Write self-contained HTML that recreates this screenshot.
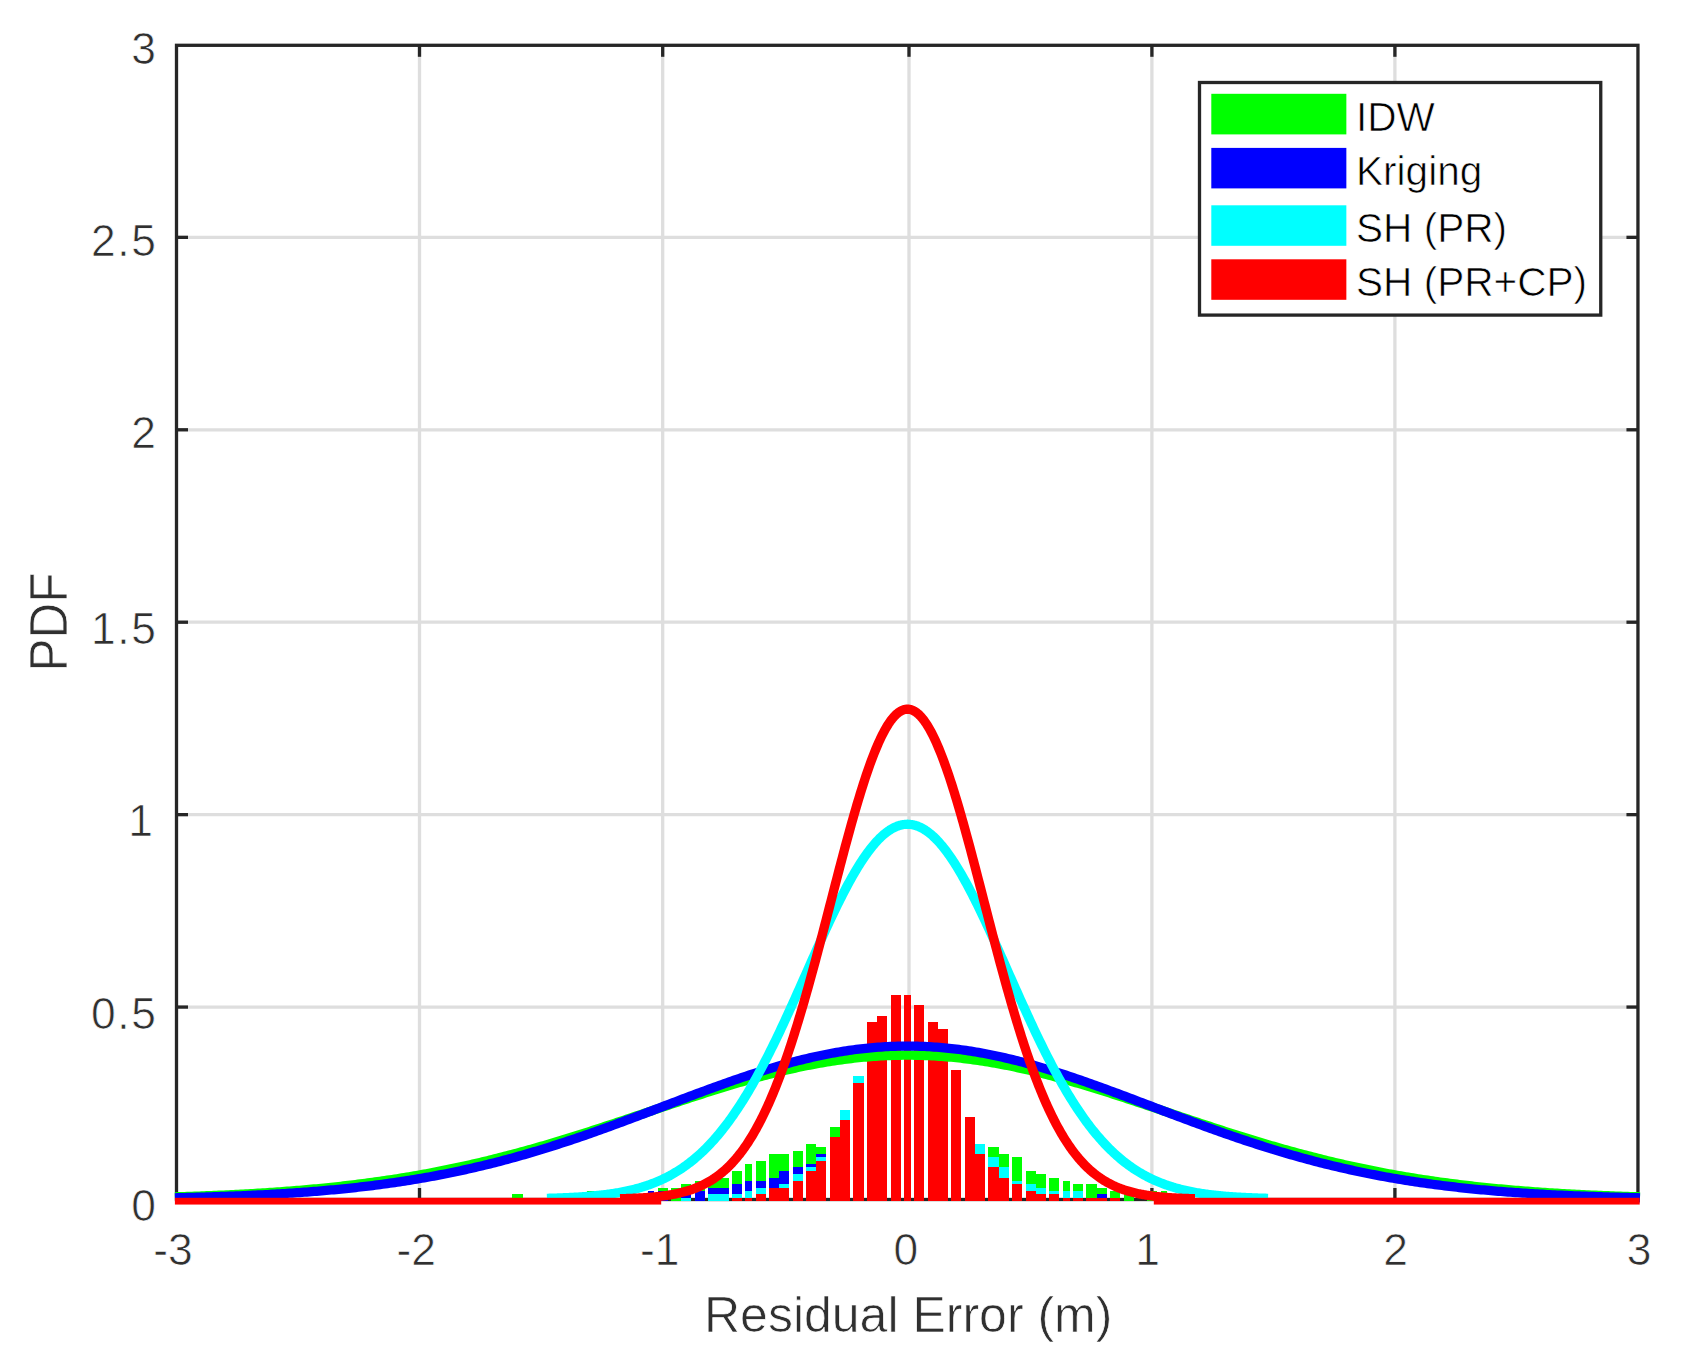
<!DOCTYPE html>
<html lang="en"><head><meta charset="utf-8"><title>Residual Error PDF</title>
<style>html,body{margin:0;padding:0;background:#fff}body{width:1688px;height:1371px;overflow:hidden}svg{display:block}text{font-family:"Liberation Sans",Arial,Helvetica,sans-serif;stroke:#fff;stroke-width:0.7px}</style></head><body>
<svg width="1688" height="1371" viewBox="0 0 1688 1371">
<rect width="1688" height="1371" fill="#fff"/>
<g stroke="#dedede" stroke-width="3.3" fill="none">
<line x1="419.50" y1="45.30" x2="419.50" y2="1199.50"/>
<line x1="662.70" y1="45.30" x2="662.70" y2="1199.50"/>
<line x1="909.00" y1="45.30" x2="909.00" y2="1199.50"/>
<line x1="1151.90" y1="45.30" x2="1151.90" y2="1199.50"/>
<line x1="1394.90" y1="45.30" x2="1394.90" y2="1199.50"/>
<line x1="176.50" y1="1007.07" x2="1637.95" y2="1007.07"/>
<line x1="176.50" y1="814.64" x2="1637.95" y2="814.64"/>
<line x1="176.50" y1="622.21" x2="1637.95" y2="622.21"/>
<line x1="176.50" y1="429.78" x2="1637.95" y2="429.78"/>
<line x1="176.50" y1="237.35" x2="1637.95" y2="237.35"/>
</g>
<g stroke="#262626" stroke-width="3.3" fill="none">
<rect x="176.50" y="45.30" width="1461.45" height="1154.20"/>
<line x1="419.50" y1="1199.50" x2="419.50" y2="1188.00"/>
<line x1="419.50" y1="45.30" x2="419.50" y2="56.80"/>
<line x1="662.70" y1="1199.50" x2="662.70" y2="1188.00"/>
<line x1="662.70" y1="45.30" x2="662.70" y2="56.80"/>
<line x1="909.00" y1="1199.50" x2="909.00" y2="1188.00"/>
<line x1="909.00" y1="45.30" x2="909.00" y2="56.80"/>
<line x1="1151.90" y1="1199.50" x2="1151.90" y2="1188.00"/>
<line x1="1151.90" y1="45.30" x2="1151.90" y2="56.80"/>
<line x1="1394.90" y1="1199.50" x2="1394.90" y2="1188.00"/>
<line x1="1394.90" y1="45.30" x2="1394.90" y2="56.80"/>
<line x1="176.50" y1="1007.07" x2="188.00" y2="1007.07"/>
<line x1="1637.95" y1="1007.07" x2="1626.45" y2="1007.07"/>
<line x1="176.50" y1="814.64" x2="188.00" y2="814.64"/>
<line x1="1637.95" y1="814.64" x2="1626.45" y2="814.64"/>
<line x1="176.50" y1="622.21" x2="188.00" y2="622.21"/>
<line x1="1637.95" y1="622.21" x2="1626.45" y2="622.21"/>
<line x1="176.50" y1="429.78" x2="188.00" y2="429.78"/>
<line x1="1637.95" y1="429.78" x2="1626.45" y2="429.78"/>
<line x1="176.50" y1="237.35" x2="188.00" y2="237.35"/>
<line x1="1637.95" y1="237.35" x2="1626.45" y2="237.35"/>
</g>
<g fill="#00ff00" shape-rendering="crispEdges">
<rect x="512.48" y="1194.43" width="10.13" height="6.75"/>
<rect x="586.75" y="1191.05" width="6.75" height="10.13"/>
<rect x="596.88" y="1191.05" width="10.13" height="10.13"/>
<rect x="657.64" y="1187.68" width="10.13" height="13.50"/>
<rect x="671.15" y="1187.68" width="10.13" height="13.50"/>
<rect x="681.28" y="1184.30" width="10.13" height="16.88"/>
<rect x="694.78" y="1180.92" width="10.13" height="20.26"/>
<rect x="708.28" y="1180.92" width="10.13" height="20.26"/>
<rect x="718.41" y="1177.55" width="10.13" height="23.63"/>
<rect x="731.92" y="1170.80" width="10.13" height="30.38"/>
<rect x="745.42" y="1164.05" width="6.75" height="37.14"/>
<rect x="755.55" y="1160.67" width="10.13" height="40.51"/>
<rect x="769.05" y="1153.92" width="10.13" height="47.26"/>
<rect x="779.18" y="1153.92" width="10.13" height="47.26"/>
<rect x="792.69" y="1150.54" width="10.13" height="50.64"/>
<rect x="806.19" y="1143.79" width="10.13" height="57.39"/>
<rect x="816.32" y="1147.16" width="10.13" height="54.02"/>
<rect x="829.82" y="1126.91" width="10.13" height="74.27"/>
<rect x="988.49" y="1147.16" width="10.13" height="54.02"/>
<rect x="998.62" y="1153.92" width="10.13" height="47.26"/>
<rect x="1012.12" y="1157.29" width="10.13" height="43.89"/>
<rect x="1025.63" y="1170.80" width="10.13" height="30.38"/>
<rect x="1035.76" y="1174.17" width="10.13" height="27.01"/>
<rect x="1049.26" y="1177.55" width="10.13" height="23.63"/>
<rect x="1062.77" y="1180.92" width="6.75" height="20.26"/>
<rect x="1072.89" y="1184.30" width="10.13" height="16.88"/>
<rect x="1086.40" y="1184.30" width="10.13" height="16.88"/>
<rect x="1096.53" y="1187.68" width="10.13" height="13.50"/>
<rect x="1110.03" y="1191.05" width="10.13" height="10.13"/>
<rect x="1123.53" y="1194.43" width="10.13" height="6.75"/>
<rect x="1147.16" y="1191.05" width="10.13" height="10.13"/>
<rect x="1160.67" y="1191.05" width="6.75" height="10.13"/>
</g>
<g fill="#0000ff" shape-rendering="crispEdges">
<rect x="647.52" y="1191.05" width="6.75" height="10.13"/>
<rect x="657.64" y="1191.05" width="10.13" height="10.13"/>
<rect x="681.28" y="1194.43" width="10.13" height="6.75"/>
<rect x="694.78" y="1191.05" width="10.13" height="10.13"/>
<rect x="708.28" y="1187.68" width="10.13" height="13.50"/>
<rect x="718.41" y="1187.68" width="10.13" height="13.50"/>
<rect x="731.92" y="1184.30" width="10.13" height="16.88"/>
<rect x="745.42" y="1180.92" width="6.75" height="20.26"/>
<rect x="755.55" y="1180.92" width="10.13" height="20.26"/>
<rect x="769.05" y="1177.55" width="10.13" height="23.63"/>
<rect x="779.18" y="1170.80" width="10.13" height="30.38"/>
<rect x="792.69" y="1167.42" width="10.13" height="33.76"/>
<rect x="806.19" y="1164.05" width="10.13" height="37.14"/>
<rect x="816.32" y="1153.92" width="10.13" height="47.26"/>
<rect x="1096.53" y="1194.43" width="10.13" height="6.75"/>
</g>
<g fill="#00ffff" shape-rendering="crispEdges">
<rect x="681.28" y="1197.81" width="10.13" height="3.38"/>
<rect x="708.28" y="1194.43" width="10.13" height="6.75"/>
<rect x="718.41" y="1194.43" width="10.13" height="6.75"/>
<rect x="731.92" y="1194.43" width="10.13" height="6.75"/>
<rect x="745.42" y="1191.05" width="6.75" height="10.13"/>
<rect x="755.55" y="1187.68" width="10.13" height="13.50"/>
<rect x="779.18" y="1184.30" width="10.13" height="16.88"/>
<rect x="792.69" y="1174.17" width="10.13" height="27.01"/>
<rect x="806.19" y="1167.42" width="10.13" height="33.76"/>
<rect x="816.32" y="1157.29" width="10.13" height="43.89"/>
<rect x="839.95" y="1110.03" width="10.13" height="91.15"/>
<rect x="853.45" y="1076.27" width="10.13" height="124.91"/>
<rect x="974.99" y="1143.79" width="10.13" height="57.39"/>
<rect x="988.49" y="1157.29" width="10.13" height="43.89"/>
<rect x="998.62" y="1167.42" width="10.13" height="33.76"/>
<rect x="1012.12" y="1180.92" width="10.13" height="20.26"/>
<rect x="1025.63" y="1184.30" width="10.13" height="16.88"/>
<rect x="1035.76" y="1187.68" width="10.13" height="13.50"/>
<rect x="1049.26" y="1191.05" width="10.13" height="10.13"/>
<rect x="1062.77" y="1191.05" width="6.75" height="10.13"/>
<rect x="1072.89" y="1191.05" width="10.13" height="10.13"/>
</g>
<g fill="#ff0000" shape-rendering="crispEdges">
<rect x="731.92" y="1197.81" width="10.13" height="3.38"/>
<rect x="745.42" y="1197.81" width="6.75" height="3.38"/>
<rect x="755.55" y="1194.43" width="10.13" height="6.75"/>
<rect x="769.05" y="1187.68" width="10.13" height="13.50"/>
<rect x="779.18" y="1187.68" width="10.13" height="13.50"/>
<rect x="792.69" y="1180.92" width="10.13" height="20.26"/>
<rect x="806.19" y="1170.80" width="10.13" height="30.38"/>
<rect x="816.32" y="1160.67" width="10.13" height="40.51"/>
<rect x="829.82" y="1137.04" width="10.13" height="64.14"/>
<rect x="839.95" y="1120.16" width="10.13" height="81.02"/>
<rect x="853.45" y="1083.02" width="10.13" height="118.16"/>
<rect x="866.96" y="1022.25" width="10.13" height="178.93"/>
<rect x="877.09" y="1015.50" width="10.13" height="185.68"/>
<rect x="890.59" y="995.25" width="10.13" height="205.94"/>
<rect x="904.09" y="995.25" width="6.75" height="205.94"/>
<rect x="914.22" y="1005.37" width="10.13" height="195.81"/>
<rect x="927.73" y="1022.25" width="10.13" height="178.93"/>
<rect x="937.85" y="1029.01" width="10.13" height="172.18"/>
<rect x="951.36" y="1069.52" width="10.13" height="131.66"/>
<rect x="964.86" y="1116.78" width="10.13" height="84.40"/>
<rect x="974.99" y="1153.92" width="10.13" height="47.26"/>
<rect x="988.49" y="1167.42" width="10.13" height="33.76"/>
<rect x="998.62" y="1177.55" width="10.13" height="23.63"/>
<rect x="1012.12" y="1184.30" width="10.13" height="16.88"/>
<rect x="1025.63" y="1191.05" width="10.13" height="10.13"/>
<rect x="1035.76" y="1194.43" width="10.13" height="6.75"/>
<rect x="1049.26" y="1194.43" width="10.13" height="6.75"/>
<rect x="1062.77" y="1197.81" width="6.75" height="3.38"/>
<rect x="1072.89" y="1197.81" width="10.13" height="3.38"/>
<rect x="1086.40" y="1197.81" width="10.13" height="3.38"/>
<rect x="1096.53" y="1197.81" width="10.13" height="3.38"/>
<rect x="1110.03" y="1197.81" width="10.13" height="3.38"/>
</g>
<polyline points="174.92,1196.84 177.37,1196.77 179.81,1196.69 182.25,1196.62 184.69,1196.54 187.13,1196.46 189.57,1196.38 192.02,1196.30 194.46,1196.22 196.90,1196.13 199.34,1196.04 201.78,1195.95 204.23,1195.86 206.67,1195.77 209.11,1195.67 211.55,1195.57 213.99,1195.47 216.43,1195.37 218.88,1195.26 221.32,1195.16 223.76,1195.05 226.20,1194.93 228.64,1194.82 231.09,1194.70 233.53,1194.58 235.97,1194.46 238.41,1194.34 240.85,1194.21 243.29,1194.08 245.74,1193.95 248.18,1193.82 250.62,1193.68 253.06,1193.54 255.50,1193.39 257.95,1193.25 260.39,1193.10 262.83,1192.95 265.27,1192.79 267.71,1192.63 270.15,1192.47 272.60,1192.31 275.04,1192.14 277.48,1191.97 279.92,1191.80 282.36,1191.62 284.81,1191.44 287.25,1191.25 289.69,1191.07 292.13,1190.88 294.57,1190.68 297.01,1190.48 299.46,1190.28 301.90,1190.08 304.34,1189.87 306.78,1189.65 309.22,1189.44 311.67,1189.22 314.11,1188.99 316.55,1188.76 318.99,1188.53 321.43,1188.29 323.87,1188.05 326.32,1187.81 328.76,1187.56 331.20,1187.31 333.64,1187.05 336.08,1186.79 338.53,1186.52 340.97,1186.25 343.41,1185.97 345.85,1185.69 348.29,1185.41 350.73,1185.12 353.18,1184.83 355.62,1184.53 358.06,1184.23 360.50,1183.92 362.94,1183.61 365.39,1183.29 367.83,1182.97 370.27,1182.64 372.71,1182.31 375.15,1181.98 377.59,1181.63 380.04,1181.29 382.48,1180.94 384.92,1180.58 387.36,1180.22 389.80,1179.85 392.25,1179.48 394.69,1179.10 397.13,1178.72 399.57,1178.33 402.01,1177.94 404.45,1177.54 406.90,1177.13 409.34,1176.72 411.78,1176.31 414.22,1175.89 416.66,1175.46 419.11,1175.03 421.55,1174.59 423.99,1174.15 426.43,1173.70 428.87,1173.25 431.31,1172.79 433.76,1172.33 436.20,1171.85 438.64,1171.38 441.08,1170.90 443.52,1170.41 445.97,1169.92 448.41,1169.42 450.85,1168.91 453.29,1168.40 455.73,1167.89 458.17,1167.36 460.62,1166.84 463.06,1166.30 465.50,1165.76 467.94,1165.22 470.38,1164.67 472.83,1164.11 475.27,1163.55 477.71,1162.98 480.15,1162.41 482.59,1161.83 485.03,1161.25 487.48,1160.66 489.92,1160.06 492.36,1159.46 494.80,1158.85 497.24,1158.24 499.69,1157.62 502.13,1157.00 504.57,1156.37 507.01,1155.74 509.45,1155.10 511.89,1154.45 514.34,1153.80 516.78,1153.15 519.22,1152.49 521.66,1151.82 524.10,1151.15 526.55,1150.47 528.99,1149.79 531.43,1149.11 533.87,1148.42 536.31,1147.72 538.75,1147.02 541.20,1146.31 543.64,1145.60 546.08,1144.89 548.52,1144.17 550.96,1143.44 553.41,1142.72 555.85,1141.98 558.29,1141.25 560.73,1140.51 563.17,1139.76 565.61,1139.01 568.06,1138.26 570.50,1137.50 572.94,1136.74 575.38,1135.97 577.82,1135.21 580.27,1134.43 582.71,1133.66 585.15,1132.88 587.59,1132.10 590.03,1131.31 592.47,1130.52 594.92,1129.73 597.36,1128.94 599.80,1128.14 602.24,1127.34 604.68,1126.54 607.13,1125.74 609.57,1124.93 612.01,1124.12 614.45,1123.31 616.89,1122.50 619.33,1121.69 621.78,1120.87 624.22,1120.06 626.66,1119.24 629.10,1118.42 631.54,1117.60 633.99,1116.78 636.43,1115.95 638.87,1115.13 641.31,1114.31 643.75,1113.48 646.20,1112.66 648.64,1111.83 651.08,1111.01 653.52,1110.18 655.96,1109.36 658.40,1108.54 660.85,1107.71 663.29,1106.89 665.73,1106.07 668.17,1105.25 670.61,1104.43 673.06,1103.61 675.50,1102.80 677.94,1101.98 680.38,1101.17 682.82,1100.36 685.26,1099.55 687.71,1098.75 690.15,1097.94 692.59,1097.14 695.03,1096.34 697.47,1095.55 699.92,1094.76 702.36,1093.97 704.80,1093.18 707.24,1092.40 709.68,1091.63 712.12,1090.85 714.57,1090.08 717.01,1089.32 719.45,1088.56 721.89,1087.80 724.33,1087.05 726.78,1086.31 729.22,1085.57 731.66,1084.83 734.10,1084.10 736.54,1083.38 738.98,1082.66 741.43,1081.95 743.87,1081.24 746.31,1080.54 748.75,1079.85 751.19,1079.16 753.64,1078.48 756.08,1077.81 758.52,1077.14 760.96,1076.48 763.40,1075.83 765.84,1075.19 768.29,1074.55 770.73,1073.92 773.17,1073.30 775.61,1072.69 778.05,1072.09 780.50,1071.49 782.94,1070.91 785.38,1070.33 787.82,1069.76 790.26,1069.20 792.70,1068.65 795.15,1068.11 797.59,1067.58 800.03,1067.06 802.47,1066.54 804.91,1066.04 807.36,1065.55 809.80,1065.07 812.24,1064.60 814.68,1064.13 817.12,1063.68 819.56,1063.24 822.01,1062.81 824.45,1062.39 826.89,1061.98 829.33,1061.59 831.77,1061.20 834.22,1060.83 836.66,1060.46 839.10,1060.11 841.54,1059.77 843.98,1059.44 846.42,1059.12 848.87,1058.82 851.31,1058.53 853.75,1058.24 856.19,1057.97 858.63,1057.72 861.08,1057.47 863.52,1057.24 865.96,1057.02 868.40,1056.81 870.84,1056.61 873.28,1056.43 875.73,1056.26 878.17,1056.10 880.61,1055.95 883.05,1055.82 885.49,1055.70 887.94,1055.59 890.38,1055.49 892.82,1055.41 895.26,1055.34 897.70,1055.28 900.14,1055.24 902.59,1055.20 905.03,1055.18 907.47,1055.18 909.91,1055.18 912.35,1055.20 914.80,1055.24 917.24,1055.28 919.68,1055.34 922.12,1055.41 924.56,1055.49 927.00,1055.59 929.45,1055.70 931.89,1055.82 934.33,1055.95 936.77,1056.10 939.21,1056.26 941.66,1056.43 944.10,1056.61 946.54,1056.81 948.98,1057.02 951.42,1057.24 953.86,1057.47 956.31,1057.72 958.75,1057.97 961.19,1058.24 963.63,1058.53 966.07,1058.82 968.52,1059.12 970.96,1059.44 973.40,1059.77 975.84,1060.11 978.28,1060.46 980.72,1060.83 983.17,1061.20 985.61,1061.59 988.05,1061.98 990.49,1062.39 992.93,1062.81 995.38,1063.24 997.82,1063.68 1000.26,1064.13 1002.70,1064.60 1005.14,1065.07 1007.58,1065.55 1010.03,1066.04 1012.47,1066.54 1014.91,1067.06 1017.35,1067.58 1019.79,1068.11 1022.24,1068.65 1024.68,1069.20 1027.12,1069.76 1029.56,1070.33 1032.00,1070.91 1034.44,1071.49 1036.89,1072.09 1039.33,1072.69 1041.77,1073.30 1044.21,1073.92 1046.65,1074.55 1049.10,1075.19 1051.54,1075.83 1053.98,1076.48 1056.42,1077.14 1058.86,1077.81 1061.30,1078.48 1063.75,1079.16 1066.19,1079.85 1068.63,1080.54 1071.07,1081.24 1073.51,1081.95 1075.96,1082.66 1078.40,1083.38 1080.84,1084.10 1083.28,1084.83 1085.72,1085.57 1088.16,1086.31 1090.61,1087.05 1093.05,1087.80 1095.49,1088.56 1097.93,1089.32 1100.37,1090.08 1102.82,1090.85 1105.26,1091.63 1107.70,1092.40 1110.14,1093.18 1112.58,1093.97 1115.02,1094.76 1117.47,1095.55 1119.91,1096.34 1122.35,1097.14 1124.79,1097.94 1127.23,1098.75 1129.68,1099.55 1132.12,1100.36 1134.56,1101.17 1137.00,1101.98 1139.44,1102.80 1141.88,1103.61 1144.33,1104.43 1146.77,1105.25 1149.21,1106.07 1151.65,1106.89 1154.09,1107.71 1156.54,1108.54 1158.98,1109.36 1161.42,1110.18 1163.86,1111.01 1166.30,1111.83 1168.74,1112.66 1171.19,1113.48 1173.63,1114.31 1176.07,1115.13 1178.51,1115.95 1180.95,1116.78 1183.40,1117.60 1185.84,1118.42 1188.28,1119.24 1190.72,1120.06 1193.16,1120.87 1195.61,1121.69 1198.05,1122.50 1200.49,1123.31 1202.93,1124.12 1205.37,1124.93 1207.81,1125.74 1210.26,1126.54 1212.70,1127.34 1215.14,1128.14 1217.58,1128.94 1220.02,1129.73 1222.47,1130.52 1224.91,1131.31 1227.35,1132.10 1229.79,1132.88 1232.23,1133.66 1234.67,1134.43 1237.12,1135.21 1239.56,1135.97 1242.00,1136.74 1244.44,1137.50 1246.88,1138.26 1249.33,1139.01 1251.77,1139.76 1254.21,1140.51 1256.65,1141.25 1259.09,1141.98 1261.53,1142.72 1263.98,1143.44 1266.42,1144.17 1268.86,1144.89 1271.30,1145.60 1273.74,1146.31 1276.19,1147.02 1278.63,1147.72 1281.07,1148.42 1283.51,1149.11 1285.95,1149.79 1288.39,1150.47 1290.84,1151.15 1293.28,1151.82 1295.72,1152.49 1298.16,1153.15 1300.60,1153.80 1303.05,1154.45 1305.49,1155.10 1307.93,1155.74 1310.37,1156.37 1312.81,1157.00 1315.25,1157.62 1317.70,1158.24 1320.14,1158.85 1322.58,1159.46 1325.02,1160.06 1327.46,1160.66 1329.91,1161.25 1332.35,1161.83 1334.79,1162.41 1337.23,1162.98 1339.67,1163.55 1342.11,1164.11 1344.56,1164.67 1347.00,1165.22 1349.44,1165.76 1351.88,1166.30 1354.32,1166.84 1356.77,1167.36 1359.21,1167.89 1361.65,1168.40 1364.09,1168.91 1366.53,1169.42 1368.97,1169.92 1371.42,1170.41 1373.86,1170.90 1376.30,1171.38 1378.74,1171.85 1381.18,1172.33 1383.63,1172.79 1386.07,1173.25 1388.51,1173.70 1390.95,1174.15 1393.39,1174.59 1395.83,1175.03 1398.28,1175.46 1400.72,1175.89 1403.16,1176.31 1405.60,1176.72 1408.04,1177.13 1410.49,1177.54 1412.93,1177.94 1415.37,1178.33 1417.81,1178.72 1420.25,1179.10 1422.69,1179.48 1425.14,1179.85 1427.58,1180.22 1430.02,1180.58 1432.46,1180.94 1434.90,1181.29 1437.35,1181.63 1439.79,1181.98 1442.23,1182.31 1444.67,1182.64 1447.11,1182.97 1449.55,1183.29 1452.00,1183.61 1454.44,1183.92 1456.88,1184.23 1459.32,1184.53 1461.76,1184.83 1464.21,1185.12 1466.65,1185.41 1469.09,1185.69 1471.53,1185.97 1473.97,1186.25 1476.41,1186.52 1478.86,1186.79 1481.30,1187.05 1483.74,1187.31 1486.18,1187.56 1488.62,1187.81 1491.07,1188.05 1493.51,1188.29 1495.95,1188.53 1498.39,1188.76 1500.83,1188.99 1503.27,1189.22 1505.72,1189.44 1508.16,1189.65 1510.60,1189.87 1513.04,1190.08 1515.48,1190.28 1517.93,1190.48 1520.37,1190.68 1522.81,1190.88 1525.25,1191.07 1527.69,1191.25 1530.13,1191.44 1532.58,1191.62 1535.02,1191.80 1537.46,1191.97 1539.90,1192.14 1542.34,1192.31 1544.79,1192.47 1547.23,1192.63 1549.67,1192.79 1552.11,1192.95 1554.55,1193.10 1556.99,1193.25 1559.44,1193.39 1561.88,1193.54 1564.32,1193.68 1566.76,1193.82 1569.20,1193.95 1571.65,1194.08 1574.09,1194.21 1576.53,1194.34 1578.97,1194.46 1581.41,1194.58 1583.85,1194.70 1586.30,1194.82 1588.74,1194.93 1591.18,1195.05 1593.62,1195.16 1596.06,1195.26 1598.51,1195.37 1600.95,1195.47 1603.39,1195.57 1605.83,1195.67 1608.27,1195.77 1610.71,1195.86 1613.16,1195.95 1615.60,1196.04 1618.04,1196.13 1620.48,1196.22 1622.92,1196.30 1625.37,1196.38 1627.81,1196.46 1630.25,1196.54 1632.69,1196.62 1635.13,1196.69 1637.57,1196.77 1640.02,1196.84" fill="none" stroke="#00ff00" stroke-width="9.3" stroke-linejoin="round"/>
<polyline points="174.92,1197.78 177.37,1197.73 179.81,1197.68 182.25,1197.62 184.69,1197.57 187.13,1197.51 189.57,1197.45 192.02,1197.39 194.46,1197.33 196.90,1197.26 199.34,1197.20 201.78,1197.13 204.23,1197.06 206.67,1196.99 209.11,1196.92 211.55,1196.84 213.99,1196.76 216.43,1196.69 218.88,1196.61 221.32,1196.52 223.76,1196.44 226.20,1196.35 228.64,1196.26 231.09,1196.17 233.53,1196.08 235.97,1195.98 238.41,1195.89 240.85,1195.79 243.29,1195.68 245.74,1195.58 248.18,1195.47 250.62,1195.36 253.06,1195.25 255.50,1195.13 257.95,1195.02 260.39,1194.90 262.83,1194.77 265.27,1194.65 267.71,1194.52 270.15,1194.39 272.60,1194.25 275.04,1194.11 277.48,1193.97 279.92,1193.83 282.36,1193.68 284.81,1193.53 287.25,1193.38 289.69,1193.22 292.13,1193.06 294.57,1192.90 297.01,1192.73 299.46,1192.56 301.90,1192.38 304.34,1192.21 306.78,1192.02 309.22,1191.84 311.67,1191.65 314.11,1191.46 316.55,1191.26 318.99,1191.06 321.43,1190.85 323.87,1190.64 326.32,1190.43 328.76,1190.21 331.20,1189.99 333.64,1189.76 336.08,1189.53 338.53,1189.30 340.97,1189.06 343.41,1188.81 345.85,1188.57 348.29,1188.31 350.73,1188.05 353.18,1187.79 355.62,1187.52 358.06,1187.25 360.50,1186.97 362.94,1186.69 365.39,1186.40 367.83,1186.11 370.27,1185.81 372.71,1185.51 375.15,1185.20 377.59,1184.88 380.04,1184.57 382.48,1184.24 384.92,1183.91 387.36,1183.57 389.80,1183.23 392.25,1182.89 394.69,1182.53 397.13,1182.17 399.57,1181.81 402.01,1181.44 404.45,1181.06 406.90,1180.68 409.34,1180.29 411.78,1179.90 414.22,1179.50 416.66,1179.09 419.11,1178.68 421.55,1178.26 423.99,1177.83 426.43,1177.40 428.87,1176.96 431.31,1176.52 433.76,1176.07 436.20,1175.61 438.64,1175.15 441.08,1174.68 443.52,1174.20 445.97,1173.72 448.41,1173.23 450.85,1172.73 453.29,1172.23 455.73,1171.72 458.17,1171.20 460.62,1170.68 463.06,1170.15 465.50,1169.61 467.94,1169.07 470.38,1168.52 472.83,1167.96 475.27,1167.40 477.71,1166.83 480.15,1166.25 482.59,1165.67 485.03,1165.07 487.48,1164.48 489.92,1163.87 492.36,1163.26 494.80,1162.64 497.24,1162.01 499.69,1161.38 502.13,1160.74 504.57,1160.10 507.01,1159.45 509.45,1158.79 511.89,1158.12 514.34,1157.45 516.78,1156.77 519.22,1156.08 521.66,1155.39 524.10,1154.69 526.55,1153.98 528.99,1153.27 531.43,1152.55 533.87,1151.83 536.31,1151.10 538.75,1150.36 541.20,1149.61 543.64,1148.86 546.08,1148.11 548.52,1147.35 550.96,1146.58 553.41,1145.80 555.85,1145.02 558.29,1144.24 560.73,1143.44 563.17,1142.65 565.61,1141.84 568.06,1141.03 570.50,1140.22 572.94,1139.40 575.38,1138.58 577.82,1137.75 580.27,1136.91 582.71,1136.07 585.15,1135.23 587.59,1134.38 590.03,1133.52 592.47,1132.66 594.92,1131.80 597.36,1130.93 599.80,1130.06 602.24,1129.19 604.68,1128.31 607.13,1127.42 609.57,1126.54 612.01,1125.65 614.45,1124.75 616.89,1123.85 619.33,1122.95 621.78,1122.05 624.22,1121.14 626.66,1120.23 629.10,1119.32 631.54,1118.41 633.99,1117.49 636.43,1116.58 638.87,1115.66 641.31,1114.73 643.75,1113.81 646.20,1112.89 648.64,1111.96 651.08,1111.03 653.52,1110.10 655.96,1109.18 658.40,1108.25 660.85,1107.32 663.29,1106.39 665.73,1105.46 668.17,1104.53 670.61,1103.60 673.06,1102.67 675.50,1101.74 677.94,1100.82 680.38,1099.89 682.82,1098.97 685.26,1098.04 687.71,1097.12 690.15,1096.20 692.59,1095.29 695.03,1094.37 697.47,1093.46 699.92,1092.55 702.36,1091.64 704.80,1090.74 707.24,1089.84 709.68,1088.95 712.12,1088.05 714.57,1087.16 717.01,1086.28 719.45,1085.40 721.89,1084.53 724.33,1083.66 726.78,1082.79 729.22,1081.93 731.66,1081.08 734.10,1080.23 736.54,1079.39 738.98,1078.55 741.43,1077.72 743.87,1076.90 746.31,1076.08 748.75,1075.27 751.19,1074.47 753.64,1073.67 756.08,1072.88 758.52,1072.10 760.96,1071.33 763.40,1070.57 765.84,1069.81 768.29,1069.07 770.73,1068.33 773.17,1067.60 775.61,1066.88 778.05,1066.17 780.50,1065.47 782.94,1064.78 785.38,1064.10 787.82,1063.42 790.26,1062.76 792.70,1062.11 795.15,1061.47 797.59,1060.85 800.03,1060.23 802.47,1059.62 804.91,1059.03 807.36,1058.44 809.80,1057.87 812.24,1057.31 814.68,1056.77 817.12,1056.23 819.56,1055.71 822.01,1055.20 824.45,1054.70 826.89,1054.21 829.33,1053.74 831.77,1053.28 834.22,1052.84 836.66,1052.40 839.10,1051.98 841.54,1051.58 843.98,1051.19 846.42,1050.81 848.87,1050.44 851.31,1050.09 853.75,1049.76 856.19,1049.44 858.63,1049.13 861.08,1048.83 863.52,1048.56 865.96,1048.29 868.40,1048.04 870.84,1047.81 873.28,1047.59 875.73,1047.38 878.17,1047.19 880.61,1047.02 883.05,1046.86 885.49,1046.71 887.94,1046.58 890.38,1046.47 892.82,1046.37 895.26,1046.29 897.70,1046.22 900.14,1046.16 902.59,1046.13 905.03,1046.10 907.47,1046.09 909.91,1046.10 912.35,1046.13 914.80,1046.16 917.24,1046.22 919.68,1046.29 922.12,1046.37 924.56,1046.47 927.00,1046.58 929.45,1046.71 931.89,1046.86 934.33,1047.02 936.77,1047.19 939.21,1047.38 941.66,1047.59 944.10,1047.81 946.54,1048.04 948.98,1048.29 951.42,1048.56 953.86,1048.83 956.31,1049.13 958.75,1049.44 961.19,1049.76 963.63,1050.09 966.07,1050.44 968.52,1050.81 970.96,1051.19 973.40,1051.58 975.84,1051.98 978.28,1052.40 980.72,1052.84 983.17,1053.28 985.61,1053.74 988.05,1054.21 990.49,1054.70 992.93,1055.20 995.38,1055.71 997.82,1056.23 1000.26,1056.77 1002.70,1057.31 1005.14,1057.87 1007.58,1058.44 1010.03,1059.03 1012.47,1059.62 1014.91,1060.23 1017.35,1060.85 1019.79,1061.47 1022.24,1062.11 1024.68,1062.76 1027.12,1063.42 1029.56,1064.10 1032.00,1064.78 1034.44,1065.47 1036.89,1066.17 1039.33,1066.88 1041.77,1067.60 1044.21,1068.33 1046.65,1069.07 1049.10,1069.81 1051.54,1070.57 1053.98,1071.33 1056.42,1072.10 1058.86,1072.88 1061.30,1073.67 1063.75,1074.47 1066.19,1075.27 1068.63,1076.08 1071.07,1076.90 1073.51,1077.72 1075.96,1078.55 1078.40,1079.39 1080.84,1080.23 1083.28,1081.08 1085.72,1081.93 1088.16,1082.79 1090.61,1083.66 1093.05,1084.53 1095.49,1085.40 1097.93,1086.28 1100.37,1087.16 1102.82,1088.05 1105.26,1088.95 1107.70,1089.84 1110.14,1090.74 1112.58,1091.64 1115.02,1092.55 1117.47,1093.46 1119.91,1094.37 1122.35,1095.29 1124.79,1096.20 1127.23,1097.12 1129.68,1098.04 1132.12,1098.97 1134.56,1099.89 1137.00,1100.82 1139.44,1101.74 1141.88,1102.67 1144.33,1103.60 1146.77,1104.53 1149.21,1105.46 1151.65,1106.39 1154.09,1107.32 1156.54,1108.25 1158.98,1109.18 1161.42,1110.10 1163.86,1111.03 1166.30,1111.96 1168.74,1112.89 1171.19,1113.81 1173.63,1114.73 1176.07,1115.66 1178.51,1116.58 1180.95,1117.49 1183.40,1118.41 1185.84,1119.32 1188.28,1120.23 1190.72,1121.14 1193.16,1122.05 1195.61,1122.95 1198.05,1123.85 1200.49,1124.75 1202.93,1125.65 1205.37,1126.54 1207.81,1127.42 1210.26,1128.31 1212.70,1129.19 1215.14,1130.06 1217.58,1130.93 1220.02,1131.80 1222.47,1132.66 1224.91,1133.52 1227.35,1134.38 1229.79,1135.23 1232.23,1136.07 1234.67,1136.91 1237.12,1137.75 1239.56,1138.58 1242.00,1139.40 1244.44,1140.22 1246.88,1141.03 1249.33,1141.84 1251.77,1142.65 1254.21,1143.44 1256.65,1144.24 1259.09,1145.02 1261.53,1145.80 1263.98,1146.58 1266.42,1147.35 1268.86,1148.11 1271.30,1148.86 1273.74,1149.61 1276.19,1150.36 1278.63,1151.10 1281.07,1151.83 1283.51,1152.55 1285.95,1153.27 1288.39,1153.98 1290.84,1154.69 1293.28,1155.39 1295.72,1156.08 1298.16,1156.77 1300.60,1157.45 1303.05,1158.12 1305.49,1158.79 1307.93,1159.45 1310.37,1160.10 1312.81,1160.74 1315.25,1161.38 1317.70,1162.01 1320.14,1162.64 1322.58,1163.26 1325.02,1163.87 1327.46,1164.48 1329.91,1165.07 1332.35,1165.67 1334.79,1166.25 1337.23,1166.83 1339.67,1167.40 1342.11,1167.96 1344.56,1168.52 1347.00,1169.07 1349.44,1169.61 1351.88,1170.15 1354.32,1170.68 1356.77,1171.20 1359.21,1171.72 1361.65,1172.23 1364.09,1172.73 1366.53,1173.23 1368.97,1173.72 1371.42,1174.20 1373.86,1174.68 1376.30,1175.15 1378.74,1175.61 1381.18,1176.07 1383.63,1176.52 1386.07,1176.96 1388.51,1177.40 1390.95,1177.83 1393.39,1178.26 1395.83,1178.68 1398.28,1179.09 1400.72,1179.50 1403.16,1179.90 1405.60,1180.29 1408.04,1180.68 1410.49,1181.06 1412.93,1181.44 1415.37,1181.81 1417.81,1182.17 1420.25,1182.53 1422.69,1182.89 1425.14,1183.23 1427.58,1183.57 1430.02,1183.91 1432.46,1184.24 1434.90,1184.57 1437.35,1184.88 1439.79,1185.20 1442.23,1185.51 1444.67,1185.81 1447.11,1186.11 1449.55,1186.40 1452.00,1186.69 1454.44,1186.97 1456.88,1187.25 1459.32,1187.52 1461.76,1187.79 1464.21,1188.05 1466.65,1188.31 1469.09,1188.57 1471.53,1188.81 1473.97,1189.06 1476.41,1189.30 1478.86,1189.53 1481.30,1189.76 1483.74,1189.99 1486.18,1190.21 1488.62,1190.43 1491.07,1190.64 1493.51,1190.85 1495.95,1191.06 1498.39,1191.26 1500.83,1191.46 1503.27,1191.65 1505.72,1191.84 1508.16,1192.02 1510.60,1192.21 1513.04,1192.38 1515.48,1192.56 1517.93,1192.73 1520.37,1192.90 1522.81,1193.06 1525.25,1193.22 1527.69,1193.38 1530.13,1193.53 1532.58,1193.68 1535.02,1193.83 1537.46,1193.97 1539.90,1194.11 1542.34,1194.25 1544.79,1194.39 1547.23,1194.52 1549.67,1194.65 1552.11,1194.77 1554.55,1194.90 1556.99,1195.02 1559.44,1195.13 1561.88,1195.25 1564.32,1195.36 1566.76,1195.47 1569.20,1195.58 1571.65,1195.68 1574.09,1195.79 1576.53,1195.89 1578.97,1195.98 1581.41,1196.08 1583.85,1196.17 1586.30,1196.26 1588.74,1196.35 1591.18,1196.44 1593.62,1196.52 1596.06,1196.61 1598.51,1196.69 1600.95,1196.76 1603.39,1196.84 1605.83,1196.92 1608.27,1196.99 1610.71,1197.06 1613.16,1197.13 1615.60,1197.20 1618.04,1197.26 1620.48,1197.33 1622.92,1197.39 1625.37,1197.45 1627.81,1197.51 1630.25,1197.57 1632.69,1197.62 1635.13,1197.68 1637.57,1197.73 1640.02,1197.78" fill="none" stroke="#0000ff" stroke-width="9.3" stroke-linejoin="round"/>
<polyline points="546.90,1198.31 548.10,1198.28 549.30,1198.25 550.50,1198.22 551.71,1198.18 552.91,1198.15 554.11,1198.11 555.31,1198.07 556.51,1198.03 557.71,1197.99 558.92,1197.95 560.12,1197.91 561.32,1197.86 562.52,1197.81 563.72,1197.77 564.93,1197.72 566.13,1197.66 567.33,1197.61 568.53,1197.55 569.73,1197.50 570.94,1197.44 572.14,1197.38 573.34,1197.31 574.54,1197.25 575.74,1197.18 576.95,1197.11 578.15,1197.04 579.35,1196.96 580.55,1196.89 581.75,1196.81 582.95,1196.72 584.16,1196.64 585.36,1196.55 586.56,1196.46 587.76,1196.37 588.96,1196.27 590.17,1196.17 591.37,1196.06 592.57,1195.96 593.77,1195.85 594.97,1195.73 596.18,1195.62 597.38,1195.49 598.58,1195.37 599.78,1195.24 600.98,1195.11 602.19,1194.97 603.39,1194.83 604.59,1194.68 605.79,1194.53 606.99,1194.37 608.19,1194.21 609.40,1194.05 610.60,1193.88 611.80,1193.70 613.00,1193.52 614.20,1193.33 615.41,1193.14 616.61,1192.94 617.81,1192.74 619.01,1192.53 620.21,1192.31 621.42,1192.09 622.62,1191.86 623.82,1191.62 625.02,1191.38 626.22,1191.13 627.43,1190.87 628.63,1190.60 629.83,1190.33 631.03,1190.05 632.23,1189.76 633.43,1189.47 634.64,1189.16 635.84,1188.85 637.04,1188.52 638.24,1188.19 639.44,1187.85 640.65,1187.50 641.85,1187.15 643.05,1186.78 644.25,1186.40 645.45,1186.01 646.66,1185.61 647.86,1185.20 649.06,1184.78 650.26,1184.35 651.46,1183.91 652.67,1183.45 653.87,1182.99 655.07,1182.51 656.27,1182.02 657.47,1181.52 658.68,1181.01 659.88,1180.48 661.08,1179.94 662.28,1179.39 663.48,1178.82 664.68,1178.24 665.89,1177.65 667.09,1177.04 668.29,1176.42 669.49,1175.78 670.69,1175.13 671.90,1174.46 673.10,1173.78 674.30,1173.08 675.50,1172.36 676.70,1171.63 677.91,1170.89 679.11,1170.12 680.31,1169.34 681.51,1168.55 682.71,1167.73 683.92,1166.90 685.12,1166.05 686.32,1165.19 687.52,1164.30 688.72,1163.40 689.92,1162.47 691.13,1161.53 692.33,1160.57 693.53,1159.59 694.73,1158.59 695.93,1157.57 697.14,1156.53 698.34,1155.47 699.54,1154.40 700.74,1153.29 701.94,1152.17 703.15,1151.03 704.35,1149.87 705.55,1148.68 706.75,1147.48 707.95,1146.25 709.16,1145.00 710.36,1143.73 711.56,1142.44 712.76,1141.12 713.96,1139.78 715.16,1138.42 716.37,1137.03 717.57,1135.63 718.77,1134.20 719.97,1132.74 721.17,1131.27 722.38,1129.77 723.58,1128.24 724.78,1126.70 725.98,1125.13 727.18,1123.53 728.39,1121.92 729.59,1120.27 730.79,1118.61 731.99,1116.92 733.19,1115.21 734.40,1113.47 735.60,1111.71 736.80,1109.93 738.00,1108.12 739.20,1106.29 740.40,1104.43 741.61,1102.55 742.81,1100.65 744.01,1098.72 745.21,1096.77 746.41,1094.80 747.62,1092.80 748.82,1090.78 750.02,1088.74 751.22,1086.67 752.42,1084.59 753.63,1082.48 754.83,1080.34 756.03,1078.19 757.23,1076.01 758.43,1073.81 759.64,1071.60 760.84,1069.35 762.04,1067.09 763.24,1064.81 764.44,1062.51 765.64,1060.19 766.85,1057.85 768.05,1055.48 769.25,1053.10 770.45,1050.71 771.65,1048.29 772.86,1045.86 774.06,1043.40 775.26,1040.94 776.46,1038.45 777.66,1035.95 778.87,1033.43 780.07,1030.90 781.27,1028.36 782.47,1025.80 783.67,1023.22 784.88,1020.63 786.08,1018.04 787.28,1015.42 788.48,1012.80 789.68,1010.17 790.88,1007.53 792.09,1004.87 793.29,1002.21 794.49,999.54 795.69,996.87 796.89,994.18 798.10,991.49 799.30,988.80 800.50,986.10 801.70,983.39 802.90,980.68 804.11,977.97 805.31,975.26 806.51,972.55 807.71,969.83 808.91,967.12 810.12,964.41 811.32,961.70 812.52,958.99 813.72,956.29 814.92,953.59 816.12,950.90 817.33,948.21 818.53,945.53 819.73,942.85 820.93,940.19 822.13,937.54 823.34,934.89 824.54,932.26 825.74,929.64 826.94,927.03 828.14,924.44 829.35,921.86 830.55,919.29 831.75,916.75 832.95,914.22 834.15,911.71 835.36,909.21 836.56,906.74 837.76,904.29 838.96,901.86 840.16,899.45 841.37,897.07 842.57,894.71 843.77,892.38 844.97,890.07 846.17,887.79 847.37,885.54 848.58,883.31 849.78,881.12 850.98,878.96 852.18,876.82 853.38,874.72 854.59,872.66 855.79,870.62 856.99,868.62 858.19,866.66 859.39,864.73 860.60,862.84 861.80,860.99 863.00,859.17 864.20,857.39 865.40,855.66 866.61,853.96 867.81,852.31 869.01,850.69 870.21,849.12 871.41,847.59 872.61,846.11 873.82,844.67 875.02,843.28 876.22,841.93 877.42,840.62 878.62,839.37 879.83,838.16 881.03,837.00 882.23,835.88 883.43,834.82 884.63,833.80 885.84,832.84 887.04,831.92 888.24,831.05 889.44,830.24 890.64,829.47 891.85,828.76 893.05,828.10 894.25,827.49 895.45,826.93 896.65,826.42 897.85,825.97 899.06,825.57 900.26,825.22 901.46,824.93 902.66,824.69 903.86,824.50 905.07,824.37 906.27,824.29 907.47,824.26 908.67,824.29 909.87,824.37 911.08,824.50 912.28,824.69 913.48,824.93 914.68,825.22 915.88,825.57 917.09,825.97 918.29,826.42 919.49,826.93 920.69,827.49 921.89,828.10 923.09,828.76 924.30,829.47 925.50,830.24 926.70,831.05 927.90,831.92 929.10,832.84 930.31,833.80 931.51,834.82 932.71,835.88 933.91,837.00 935.11,838.16 936.32,839.37 937.52,840.62 938.72,841.93 939.92,843.28 941.12,844.67 942.33,846.11 943.53,847.59 944.73,849.12 945.93,850.69 947.13,852.31 948.33,853.96 949.54,855.66 950.74,857.39 951.94,859.17 953.14,860.99 954.34,862.84 955.55,864.73 956.75,866.66 957.95,868.62 959.15,870.62 960.35,872.66 961.56,874.72 962.76,876.82 963.96,878.96 965.16,881.12 966.36,883.31 967.57,885.54 968.77,887.79 969.97,890.07 971.17,892.38 972.37,894.71 973.57,897.07 974.78,899.45 975.98,901.86 977.18,904.29 978.38,906.74 979.58,909.21 980.79,911.71 981.99,914.22 983.19,916.75 984.39,919.29 985.59,921.86 986.80,924.44 988.00,927.03 989.20,929.64 990.40,932.26 991.60,934.89 992.81,937.54 994.01,940.19 995.21,942.85 996.41,945.53 997.61,948.21 998.82,950.90 1000.02,953.59 1001.22,956.29 1002.42,958.99 1003.62,961.70 1004.82,964.41 1006.03,967.12 1007.23,969.83 1008.43,972.55 1009.63,975.26 1010.83,977.97 1012.04,980.68 1013.24,983.39 1014.44,986.10 1015.64,988.80 1016.84,991.49 1018.05,994.18 1019.25,996.87 1020.45,999.54 1021.65,1002.21 1022.85,1004.87 1024.06,1007.53 1025.26,1010.17 1026.46,1012.80 1027.66,1015.42 1028.86,1018.04 1030.06,1020.63 1031.27,1023.22 1032.47,1025.80 1033.67,1028.36 1034.87,1030.90 1036.07,1033.43 1037.28,1035.95 1038.48,1038.45 1039.68,1040.94 1040.88,1043.40 1042.08,1045.86 1043.29,1048.29 1044.49,1050.71 1045.69,1053.10 1046.89,1055.48 1048.09,1057.85 1049.30,1060.19 1050.50,1062.51 1051.70,1064.81 1052.90,1067.09 1054.10,1069.35 1055.30,1071.60 1056.51,1073.81 1057.71,1076.01 1058.91,1078.19 1060.11,1080.34 1061.31,1082.48 1062.52,1084.59 1063.72,1086.67 1064.92,1088.74 1066.12,1090.78 1067.32,1092.80 1068.53,1094.80 1069.73,1096.77 1070.93,1098.72 1072.13,1100.65 1073.33,1102.55 1074.54,1104.43 1075.74,1106.29 1076.94,1108.12 1078.14,1109.93 1079.34,1111.71 1080.54,1113.47 1081.75,1115.21 1082.95,1116.92 1084.15,1118.61 1085.35,1120.27 1086.55,1121.92 1087.76,1123.53 1088.96,1125.13 1090.16,1126.70 1091.36,1128.24 1092.56,1129.77 1093.77,1131.27 1094.97,1132.74 1096.17,1134.20 1097.37,1135.63 1098.57,1137.03 1099.78,1138.42 1100.98,1139.78 1102.18,1141.12 1103.38,1142.44 1104.58,1143.73 1105.78,1145.00 1106.99,1146.25 1108.19,1147.48 1109.39,1148.68 1110.59,1149.87 1111.79,1151.03 1113.00,1152.17 1114.20,1153.29 1115.40,1154.40 1116.60,1155.47 1117.80,1156.53 1119.01,1157.57 1120.21,1158.59 1121.41,1159.59 1122.61,1160.57 1123.81,1161.53 1125.02,1162.47 1126.22,1163.40 1127.42,1164.30 1128.62,1165.19 1129.82,1166.05 1131.02,1166.90 1132.23,1167.73 1133.43,1168.55 1134.63,1169.34 1135.83,1170.12 1137.03,1170.89 1138.24,1171.63 1139.44,1172.36 1140.64,1173.08 1141.84,1173.78 1143.04,1174.46 1144.25,1175.13 1145.45,1175.78 1146.65,1176.42 1147.85,1177.04 1149.05,1177.65 1150.26,1178.24 1151.46,1178.82 1152.66,1179.39 1153.86,1179.94 1155.06,1180.48 1156.26,1181.01 1157.47,1181.52 1158.67,1182.02 1159.87,1182.51 1161.07,1182.99 1162.27,1183.45 1163.48,1183.91 1164.68,1184.35 1165.88,1184.78 1167.08,1185.20 1168.28,1185.61 1169.49,1186.01 1170.69,1186.40 1171.89,1186.78 1173.09,1187.15 1174.29,1187.50 1175.50,1187.85 1176.70,1188.19 1177.90,1188.52 1179.10,1188.85 1180.30,1189.16 1181.51,1189.47 1182.71,1189.76 1183.91,1190.05 1185.11,1190.33 1186.31,1190.60 1187.51,1190.87 1188.72,1191.13 1189.92,1191.38 1191.12,1191.62 1192.32,1191.86 1193.52,1192.09 1194.73,1192.31 1195.93,1192.53 1197.13,1192.74 1198.33,1192.94 1199.53,1193.14 1200.74,1193.33 1201.94,1193.52 1203.14,1193.70 1204.34,1193.88 1205.54,1194.05 1206.75,1194.21 1207.95,1194.37 1209.15,1194.53 1210.35,1194.68 1211.55,1194.83 1212.75,1194.97 1213.96,1195.11 1215.16,1195.24 1216.36,1195.37 1217.56,1195.49 1218.76,1195.62 1219.97,1195.73 1221.17,1195.85 1222.37,1195.96 1223.57,1196.06 1224.77,1196.17 1225.98,1196.27 1227.18,1196.37 1228.38,1196.46 1229.58,1196.55 1230.78,1196.64 1231.99,1196.72 1233.19,1196.81 1234.39,1196.89 1235.59,1196.96 1236.79,1197.04 1237.99,1197.11 1239.20,1197.18 1240.40,1197.25 1241.60,1197.31 1242.80,1197.38 1244.00,1197.44 1245.21,1197.50 1246.41,1197.55 1247.61,1197.61 1248.81,1197.66 1250.01,1197.72 1251.22,1197.77 1252.42,1197.81 1253.62,1197.86 1254.82,1197.91 1256.02,1197.95 1257.23,1197.99 1258.43,1198.03 1259.63,1198.07 1260.83,1198.11 1262.03,1198.15 1263.23,1198.18 1264.44,1198.22 1265.64,1198.25 1266.84,1198.28 1268.04,1198.31" fill="none" stroke="#00ffff" stroke-width="9.3" stroke-linejoin="round"/>
<rect x="174.9" y="1197.8" width="486.3" height="6.76" fill="#ff0000"/>
<rect x="1153.8" y="1197.8" width="485.9" height="6.76" fill="#ff0000"/>
<polyline points="619.99,1198.70 620.94,1198.68 621.90,1198.65 622.86,1198.62 623.82,1198.60 624.78,1198.57 625.74,1198.54 626.69,1198.51 627.65,1198.48 628.61,1198.45 629.57,1198.41 630.53,1198.38 631.49,1198.34 632.44,1198.30 633.40,1198.26 634.36,1198.22 635.32,1198.18 636.28,1198.13 637.24,1198.09 638.19,1198.04 639.15,1197.99 640.11,1197.94 641.07,1197.89 642.03,1197.83 642.99,1197.77 643.94,1197.71 644.90,1197.65 645.86,1197.59 646.82,1197.52 647.78,1197.45 648.73,1197.38 649.69,1197.31 650.65,1197.23 651.61,1197.15 652.57,1197.06 653.53,1196.98 654.48,1196.89 655.44,1196.80 656.40,1196.70 657.36,1196.60 658.32,1196.50 659.28,1196.39 660.23,1196.28 661.19,1196.17 662.15,1196.05 663.11,1195.92 664.07,1195.80 665.03,1195.67 665.98,1195.53 666.94,1195.39 667.90,1195.24 668.86,1195.09 669.82,1194.93 670.78,1194.77 671.73,1194.61 672.69,1194.43 673.65,1194.25 674.61,1194.07 675.57,1193.88 676.53,1193.68 677.48,1193.48 678.44,1193.27 679.40,1193.05 680.36,1192.82 681.32,1192.59 682.27,1192.35 683.23,1192.10 684.19,1191.85 685.15,1191.58 686.11,1191.31 687.07,1191.03 688.02,1190.74 688.98,1190.44 689.94,1190.13 690.90,1189.81 691.86,1189.48 692.82,1189.15 693.77,1188.80 694.73,1188.44 695.69,1188.07 696.65,1187.69 697.61,1187.29 698.57,1186.89 699.52,1186.47 700.48,1186.04 701.44,1185.60 702.40,1185.15 703.36,1184.68 704.32,1184.20 705.27,1183.71 706.23,1183.20 707.19,1182.68 708.15,1182.14 709.11,1181.59 710.06,1181.02 711.02,1180.44 711.98,1179.84 712.94,1179.22 713.90,1178.59 714.86,1177.94 715.81,1177.28 716.77,1176.59 717.73,1175.89 718.69,1175.17 719.65,1174.43 720.61,1173.68 721.56,1172.90 722.52,1172.10 723.48,1171.29 724.44,1170.45 725.40,1169.59 726.36,1168.71 727.31,1167.81 728.27,1166.89 729.23,1165.95 730.19,1164.98 731.15,1163.99 732.11,1162.98 733.06,1161.94 734.02,1160.88 734.98,1159.79 735.94,1158.69 736.90,1157.55 737.85,1156.39 738.81,1155.20 739.77,1153.99 740.73,1152.75 741.69,1151.49 742.65,1150.20 743.60,1148.88 744.56,1147.53 745.52,1146.16 746.48,1144.75 747.44,1143.32 748.40,1141.86 749.35,1140.37 750.31,1138.85 751.27,1137.30 752.23,1135.72 753.19,1134.11 754.15,1132.46 755.10,1130.79 756.06,1129.09 757.02,1127.35 757.98,1125.58 758.94,1123.79 759.90,1121.95 760.85,1120.09 761.81,1118.19 762.77,1116.26 763.73,1114.30 764.69,1112.31 765.64,1110.28 766.60,1108.22 767.56,1106.12 768.52,1103.99 769.48,1101.83 770.44,1099.63 771.39,1097.40 772.35,1095.14 773.31,1092.84 774.27,1090.50 775.23,1088.14 776.19,1085.74 777.14,1083.30 778.10,1080.83 779.06,1078.33 780.02,1075.79 780.98,1073.22 781.94,1070.61 782.89,1067.98 783.85,1065.30 784.81,1062.60 785.77,1059.86 786.73,1057.09 787.69,1054.28 788.64,1051.45 789.60,1048.58 790.56,1045.68 791.52,1042.75 792.48,1039.78 793.43,1036.79 794.39,1033.76 795.35,1030.71 796.31,1027.62 797.27,1024.50 798.23,1021.36 799.18,1018.19 800.14,1014.99 801.10,1011.76 802.06,1008.50 803.02,1005.22 803.98,1001.91 804.93,998.58 805.89,995.22 806.85,991.84 807.81,988.43 808.77,985.01 809.73,981.56 810.68,978.09 811.64,974.59 812.60,971.08 813.56,967.55 814.52,964.00 815.48,960.44 816.43,956.86 817.39,953.26 818.35,949.65 819.31,946.02 820.27,942.38 821.22,938.73 822.18,935.07 823.14,931.40 824.10,927.72 825.06,924.04 826.02,920.34 826.97,916.64 827.93,912.94 828.89,909.23 829.85,905.52 830.81,901.81 831.77,898.10 832.72,894.39 833.68,890.68 834.64,886.98 835.60,883.28 836.56,879.59 837.52,875.90 838.47,872.22 839.43,868.55 840.39,864.90 841.35,861.25 842.31,857.62 843.27,854.00 844.22,850.40 845.18,846.82 846.14,843.26 847.10,839.71 848.06,836.19 849.02,832.69 849.97,829.21 850.93,825.76 851.89,822.33 852.85,818.94 853.81,815.57 854.76,812.23 855.72,808.93 856.68,805.66 857.64,802.42 858.60,799.22 859.56,796.05 860.51,792.92 861.47,789.84 862.43,786.79 863.39,783.79 864.35,780.83 865.31,777.91 866.26,775.04 867.22,772.22 868.18,769.44 869.14,766.72 870.10,764.04 871.06,761.42 872.01,758.85 872.97,756.33 873.93,753.87 874.89,751.47 875.85,749.12 876.81,746.83 877.76,744.60 878.72,742.43 879.68,740.32 880.64,738.28 881.60,736.29 882.55,734.37 883.51,732.52 884.47,730.73 885.43,729.01 886.39,727.36 887.35,725.77 888.30,724.25 889.26,722.80 890.22,721.43 891.18,720.12 892.14,718.88 893.10,717.72 894.05,716.63 895.01,715.61 895.97,714.67 896.93,713.79 897.89,713.00 898.85,712.28 899.80,711.63 900.76,711.06 901.72,710.56 902.68,710.14 903.64,709.80 904.60,709.53 905.55,709.34 906.51,709.23 907.47,709.19 908.43,709.23 909.39,709.34 910.34,709.53 911.30,709.80 912.26,710.14 913.22,710.56 914.18,711.06 915.14,711.63 916.09,712.28 917.05,713.00 918.01,713.79 918.97,714.67 919.93,715.61 920.89,716.63 921.84,717.72 922.80,718.88 923.76,720.12 924.72,721.43 925.68,722.80 926.64,724.25 927.59,725.77 928.55,727.36 929.51,729.01 930.47,730.73 931.43,732.52 932.39,734.37 933.34,736.29 934.30,738.28 935.26,740.32 936.22,742.43 937.18,744.60 938.13,746.83 939.09,749.12 940.05,751.47 941.01,753.87 941.97,756.33 942.93,758.85 943.88,761.42 944.84,764.04 945.80,766.72 946.76,769.44 947.72,772.22 948.68,775.04 949.63,777.91 950.59,780.83 951.55,783.79 952.51,786.79 953.47,789.84 954.43,792.92 955.38,796.05 956.34,799.22 957.30,802.42 958.26,805.66 959.22,808.93 960.18,812.23 961.13,815.57 962.09,818.94 963.05,822.33 964.01,825.76 964.97,829.21 965.92,832.69 966.88,836.19 967.84,839.71 968.80,843.26 969.76,846.82 970.72,850.40 971.67,854.00 972.63,857.62 973.59,861.25 974.55,864.90 975.51,868.55 976.47,872.22 977.42,875.90 978.38,879.59 979.34,883.28 980.30,886.98 981.26,890.68 982.22,894.39 983.17,898.10 984.13,901.81 985.09,905.52 986.05,909.23 987.01,912.94 987.97,916.64 988.92,920.34 989.88,924.04 990.84,927.72 991.80,931.40 992.76,935.07 993.72,938.73 994.67,942.38 995.63,946.02 996.59,949.65 997.55,953.26 998.51,956.86 999.46,960.44 1000.42,964.00 1001.38,967.55 1002.34,971.08 1003.30,974.59 1004.26,978.09 1005.21,981.56 1006.17,985.01 1007.13,988.43 1008.09,991.84 1009.05,995.22 1010.01,998.58 1010.96,1001.91 1011.92,1005.22 1012.88,1008.50 1013.84,1011.76 1014.80,1014.99 1015.76,1018.19 1016.71,1021.36 1017.67,1024.50 1018.63,1027.62 1019.59,1030.71 1020.55,1033.76 1021.51,1036.79 1022.46,1039.78 1023.42,1042.75 1024.38,1045.68 1025.34,1048.58 1026.30,1051.45 1027.25,1054.28 1028.21,1057.09 1029.17,1059.86 1030.13,1062.60 1031.09,1065.30 1032.05,1067.98 1033.00,1070.61 1033.96,1073.22 1034.92,1075.79 1035.88,1078.33 1036.84,1080.83 1037.80,1083.30 1038.75,1085.74 1039.71,1088.14 1040.67,1090.50 1041.63,1092.84 1042.59,1095.14 1043.55,1097.40 1044.50,1099.63 1045.46,1101.83 1046.42,1103.99 1047.38,1106.12 1048.34,1108.22 1049.30,1110.28 1050.25,1112.31 1051.21,1114.30 1052.17,1116.26 1053.13,1118.19 1054.09,1120.09 1055.04,1121.95 1056.00,1123.79 1056.96,1125.58 1057.92,1127.35 1058.88,1129.09 1059.84,1130.79 1060.79,1132.46 1061.75,1134.11 1062.71,1135.72 1063.67,1137.30 1064.63,1138.85 1065.59,1140.37 1066.54,1141.86 1067.50,1143.32 1068.46,1144.75 1069.42,1146.16 1070.38,1147.53 1071.34,1148.88 1072.29,1150.20 1073.25,1151.49 1074.21,1152.75 1075.17,1153.99 1076.13,1155.20 1077.09,1156.39 1078.04,1157.55 1079.00,1158.69 1079.96,1159.79 1080.92,1160.88 1081.88,1161.94 1082.83,1162.98 1083.79,1163.99 1084.75,1164.98 1085.71,1165.95 1086.67,1166.89 1087.63,1167.81 1088.58,1168.71 1089.54,1169.59 1090.50,1170.45 1091.46,1171.29 1092.42,1172.10 1093.38,1172.90 1094.33,1173.68 1095.29,1174.43 1096.25,1175.17 1097.21,1175.89 1098.17,1176.59 1099.13,1177.28 1100.08,1177.94 1101.04,1178.59 1102.00,1179.22 1102.96,1179.84 1103.92,1180.44 1104.88,1181.02 1105.83,1181.59 1106.79,1182.14 1107.75,1182.68 1108.71,1183.20 1109.67,1183.71 1110.62,1184.20 1111.58,1184.68 1112.54,1185.15 1113.50,1185.60 1114.46,1186.04 1115.42,1186.47 1116.37,1186.89 1117.33,1187.29 1118.29,1187.69 1119.25,1188.07 1120.21,1188.44 1121.17,1188.80 1122.12,1189.15 1123.08,1189.48 1124.04,1189.81 1125.00,1190.13 1125.96,1190.44 1126.92,1190.74 1127.87,1191.03 1128.83,1191.31 1129.79,1191.58 1130.75,1191.85 1131.71,1192.10 1132.67,1192.35 1133.62,1192.59 1134.58,1192.82 1135.54,1193.05 1136.50,1193.27 1137.46,1193.48 1138.41,1193.68 1139.37,1193.88 1140.33,1194.07 1141.29,1194.25 1142.25,1194.43 1143.21,1194.61 1144.16,1194.77 1145.12,1194.93 1146.08,1195.09 1147.04,1195.24 1148.00,1195.39 1148.96,1195.53 1149.91,1195.67 1150.87,1195.80 1151.83,1195.92 1152.79,1196.05 1153.75,1196.17 1154.71,1196.28 1155.66,1196.39 1156.62,1196.50 1157.58,1196.60 1158.54,1196.70 1159.50,1196.80 1160.46,1196.89 1161.41,1196.98 1162.37,1197.06 1163.33,1197.15 1164.29,1197.23 1165.25,1197.31 1166.21,1197.38 1167.16,1197.45 1168.12,1197.52 1169.08,1197.59 1170.04,1197.65 1171.00,1197.71 1171.95,1197.77 1172.91,1197.83 1173.87,1197.89 1174.83,1197.94 1175.79,1197.99 1176.75,1198.04 1177.70,1198.09 1178.66,1198.13 1179.62,1198.18 1180.58,1198.22 1181.54,1198.26 1182.50,1198.30 1183.45,1198.34 1184.41,1198.38 1185.37,1198.41 1186.33,1198.45 1187.29,1198.48 1188.25,1198.51 1189.20,1198.54 1190.16,1198.57 1191.12,1198.60 1192.08,1198.62 1193.04,1198.65 1194.00,1198.68 1194.95,1198.70" fill="none" stroke="#ff0000" stroke-width="9.3" stroke-linejoin="round"/>
<g font-size="44.4" fill="#303030">
<text x="156" y="63.6" text-anchor="end">3</text>
<text x="157.5" y="256.0" text-anchor="end" letter-spacing="1.6">2.5</text>
<text x="156" y="448.0" text-anchor="end">2</text>
<text x="157.5" y="643.8" text-anchor="end" letter-spacing="1.6">1.5</text>
<text x="153" y="836.0" text-anchor="end">1</text>
<text x="157.5" y="1029.0" text-anchor="end" letter-spacing="1.6">0.5</text>
<text x="156" y="1220.7" text-anchor="end">0</text>
<text x="173.0" y="1265" text-anchor="middle">-3</text>
<text x="416.2" y="1265" text-anchor="middle">-2</text>
<text x="659.8" y="1265" text-anchor="middle">-1</text>
<text x="905.8" y="1265" text-anchor="middle">0</text>
<text x="1147.5" y="1265" text-anchor="middle">1</text>
<text x="1395.5" y="1265" text-anchor="middle">2</text>
<text x="1639.0" y="1265" text-anchor="middle">3</text>
</g>
<text x="908.2" y="1331.8" font-size="50" fill="#303030" text-anchor="middle">Residual Error (m)</text>
<text transform="translate(66.8,622) rotate(-90) scale(0.99,1.055)" font-size="50" fill="#303030" text-anchor="middle">PDF</text>
<rect x="1199.5" y="82.5" width="401.25" height="232.6" fill="#fff" stroke="#262626" stroke-width="3.3"/>
<rect x="1211.3" y="93.8" width="135.05" height="40.6" fill="#00ff00"/>
<text x="1356" y="131.0" font-size="40.6" fill="#000">IDW</text>
<rect x="1211.3" y="147.9" width="135.05" height="40.5" fill="#0000ff"/>
<text x="1356" y="185.1" font-size="40.6" fill="#000">Kriging</text>
<rect x="1211.3" y="205.3" width="135.05" height="40.5" fill="#00ffff"/>
<text x="1356" y="242.0" font-size="40.6" fill="#000">SH (PR)</text>
<rect x="1211.3" y="259.3" width="135.05" height="40.5" fill="#ff0000"/>
<text x="1356" y="296.0" font-size="40.6" fill="#000">SH (PR+CP)</text>
</svg></body></html>
